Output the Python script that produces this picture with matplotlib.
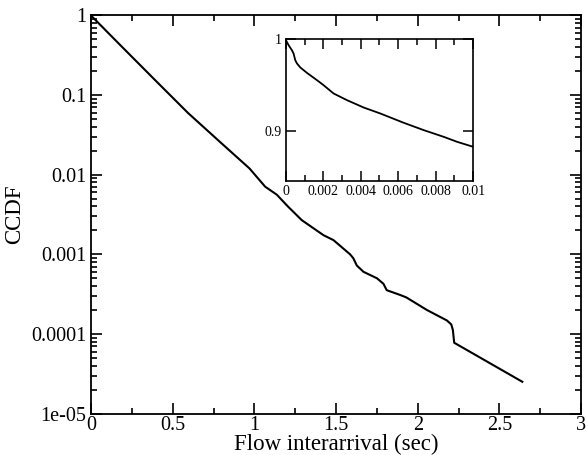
import matplotlib
matplotlib.use('Agg')
import matplotlib.pyplot as plt
import numpy as np
from matplotlib.ticker import FixedLocator, MultipleLocator, NullFormatter

plt.rcParams['font.family'] = ['Liberation Serif', 'DejaVu Serif']

# main CCDF curve
main_x = [0.0, 0.186, 0.39, 0.594, 0.798, 0.97, 1.066, 1.137, 1.206, 1.29, 1.423,
          1.484, 1.586, 1.606, 1.627, 1.668, 1.75, 1.79, 1.81, 1.892, 1.93, 2.056,
          2.178, 2.205, 2.215, 2.223, 2.64]
main_y = [1.0, 0.411, 0.156, 0.0596, 0.0249, 0.0120, 0.00708, 0.00562, 0.00398,
          0.00269, 0.00174, 0.00151, 0.00100, 0.000891, 0.000724, 0.000603,
          0.000501, 0.000427, 0.000355, 0.000309, 0.000288, 0.000200, 0.000148,
          0.000132, 0.000112, 0.0000776, 0.0000251]

# inset: zoom on the first 10 ms
inset_x = [0.0, 0.000143, 0.000321, 0.00041, 0.0005, 0.00059, 0.00077, 0.00112,
           0.00166, 0.00201, 0.00255, 0.00326, 0.00415, 0.00504, 0.00629, 0.00736,
           0.00843, 0.00914, 0.01]
inset_y = [0.999, 0.9935, 0.988, 0.9844, 0.9772, 0.9736, 0.9692, 0.9634, 0.9554,
           0.950, 0.9409, 0.9337, 0.9257, 0.9192, 0.9091, 0.9011, 0.8938, 0.8884,
           0.883]

y_ticks = [1, 0.1, 0.01, 0.001, 0.0001, 1e-05]
y_labels = ['1', '0.1', '0.01', '0.001', '0.0001', '1e-05']
x_ticks = [0, 0.5, 1, 1.5, 2, 2.5, 3]
x_labels = ['0', '0.5', '1', '1.5', '2', '2.5', '3']
inset_xticks = [0, 0.002, 0.004, 0.006, 0.008, 0.01]
inset_xlabels = ['0', '0.002', '0.004', '0.006', '0.008', '0.01']

fig = plt.figure(figsize=(5.87, 4.55), dpi=100)
ax = fig.add_axes([0.155, 0.091, 0.835, 0.875])
ax.plot(main_x, main_y, color='black', lw=1.5)
ax.set_yscale('log')
ax.set_xlim(0, 3)
ax.set_ylim(1e-05, 1)
ax.yaxis.set_major_locator(FixedLocator(y_ticks))
ax.set_yticklabels(y_labels)
ax.yaxis.set_minor_locator(FixedLocator(
    [m * 10.0 ** e for e in range(-5, 0) for m in range(2, 10)]))
ax.yaxis.set_minor_formatter(NullFormatter())
ax.set_xticks(x_ticks)
ax.set_xticklabels(x_labels)
ax.xaxis.set_minor_locator(MultipleLocator(0.25))
ax.tick_params(which='both', direction='in', top=True, right=True, width=1.2,
               labelsize=14.5)
ax.tick_params(which='major', length=8)
ax.tick_params(which='minor', length=4)
ax.tick_params(axis='x', pad=2)
for s in ax.spines.values():
    s.set_linewidth(1.3)
ax.set_xlabel('Flow interarrival (sec)', fontsize=16.5, labelpad=-1)
ax.set_ylabel('CCDF', fontsize=16.5, labelpad=4)

ins = fig.add_axes([0.487, 0.602, 0.319, 0.312])
ins.plot(inset_x, inset_y, color='black', lw=1.3)
ins.set_xlim(0, 0.01)
ins.set_ylim(0.8457, 1.0)
ins.set_xticks(inset_xticks)
ins.set_xticklabels(inset_xlabels)
ins.xaxis.set_minor_locator(MultipleLocator(0.001))
ins.set_yticks([0.9, 1.0])
ins.set_yticklabels(['0.9', '1'])
ins.tick_params(which='both', direction='in', top=True, right=True, width=1.1,
                labelsize=10, pad=3)
ins.tick_params(which='major', length=7)
ins.tick_params(which='minor', length=4)
for s in ins.spines.values():
    s.set_linewidth(1.2)

fig.savefig('out.png', dpi=100)
